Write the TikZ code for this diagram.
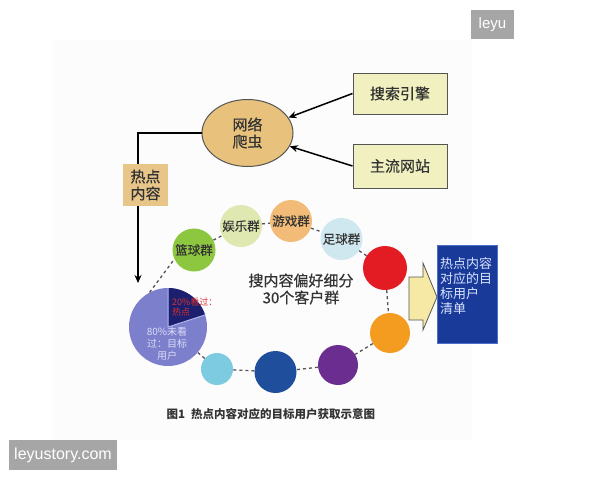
\documentclass[tikz,border=0pt]{standalone}
\usepackage{fontspec}
\setmainfont{Noto Sans CJK SC}
\newfontfamily\medfont{Noto Sans CJK SC}[FakeBold=0.5]
\newfontfamily\wmfont{Liberation Sans}
\usetikzlibrary{shapes.geometric,arrows.meta}
\definecolor{panel}{HTML}{FCFCFC}
\definecolor{srcfill}{HTML}{F0F0C0}
\definecolor{edgegray}{HTML}{555555}
\definecolor{crawlfill}{HTML}{E8C27C}
\definecolor{hotfill}{HTML}{E8C68A}
\definecolor{txt}{HTML}{333333}
\definecolor{cgreen}{HTML}{8DC63F}
\definecolor{cpale}{HTML}{DFE8B0}
\definecolor{cpeach}{HTML}{F2BC78}
\definecolor{cice}{HTML}{CFE8EF}
\definecolor{cred}{HTML}{E31B23}
\definecolor{corange}{HTML}{F39C1F}
\definecolor{cpurple}{HTML}{6B2D8F}
\definecolor{cnavy}{HTML}{1F4E9C}
\definecolor{ccyan}{HTML}{7CCBE0}
\definecolor{pieblue}{HTML}{7B7FCC}
\definecolor{pienavy}{HTML}{1B1F6E}
\definecolor{pieline}{HTML}{B4B8EC}
\definecolor{pietext}{HTML}{DCDCF8}
\definecolor{piered}{HTML}{D83030}
\definecolor{arrowfill}{HTML}{F6E9A6}
\definecolor{listblue}{HTML}{1A3A9A}
\definecolor{listedge}{HTML}{4A70C8}
\definecolor{listtext}{HTML}{D8E4FF}
\definecolor{wmgray}{HTML}{A6A6A6}
\begin{document}
\begin{tikzpicture}[x=1pt,y=-1pt,
  srcbox/.style={draw=edgegray, line width=1pt, fill=srcfill, minimum width=94pt, inner sep=0pt,
    font=\medfont\fontsize{15}{17}\selectfont, text=txt},
  crawler/.style={ellipse, draw=edgegray, line width=1pt, fill=crawlfill, minimum width=91pt,
    minimum height=67pt, inner sep=0pt, align=center, font=\medfont\fontsize{15}{17}\selectfont, text=txt},
  hotbox/.style={fill=hotfill, minimum width=45pt, minimum height=42pt, inner sep=0pt, align=center,
    font=\medfont\fontsize{15}{17}\selectfont, text=txt},
  conn/.style={line width=1.5pt, black},
  arr/.style={conn, -{Stealth[length=8pt,width=7pt]}},
  grp/.style={circle, inner sep=0pt, font=\medfont\fontsize{12.5}{14}\selectfont, text=txt},
  ring/.style={dashed, dash pattern=on 3pt off 3pt, line width=1.3pt, edgegray},
  wm/.style={fill=wmgray, text=white, inner sep=0pt, font=\wmfont\fontsize{15}{17}\selectfont}
]
\useasboundingbox (0,0) rectangle (600,480);
\fill[white] (0,0) rectangle (600,480);
\fill[panel] (52,40) rectangle (472,440);

% sources and crawler
\node[srcbox, minimum height=41pt] (search) at (400,93.5) {搜索引擎};
\node[srcbox, minimum height=44pt] (site) at (400,166) {主流网站};
\node[crawler] (crawl) at (247.5,133) {网络\\爬虫};
\draw[arr] (search.west) -- (crawl);
\draw[arr] (site.west) -- (crawl);

% hot content
\node[hotbox] (hot) at (145.5,185) {热点\\内容};
\coordinate (bend) at (138,133);
\coordinate (tip) at (138,283);
\draw[conn] (crawl.west) -- (bend) -- (hot.north -| bend);
\draw[arr] (hot.south -| bend) -- (tip);

% groups
\node[grp, fill=cgreen,  minimum size=43pt] (lanqiu) at (194,250) {篮球群};
\node[grp, fill=cpale,   minimum size=42pt] (yule)   at (241,226) {娱乐群};
\node[grp, fill=cpeach,  minimum size=42pt] (youxi)  at (291,221) {游戏群};
\node[grp, fill=cice,    minimum size=42pt] (zuqiu)  at (341.5,239) {足球群};
\node[grp, fill=cred,    minimum size=44pt] (g5) at (385,268) {};
\node[grp, fill=corange, minimum size=40pt] (g6) at (390,333) {};
\node[grp, fill=cpurple, minimum size=40pt] (g7) at (338,365) {};
\node[grp, fill=cnavy,   minimum size=42pt] (g8) at (275.5,372) {};
\node[grp, fill=ccyan,   minimum size=32pt] (g9) at (217,369) {};

% pie
\node[circle, fill=pieblue, minimum size=78pt, inner sep=0pt] (pie) at (168,327) {};
\begin{scope}
  \clip (pie.center) circle[radius=39pt];
  \fill[pienavy] (pie.center) -- (168,260) -- (250,260) -- (250,300.3) -- cycle;
\end{scope}
\draw[pieline, line width=1pt] (pie.90) -- (pie.center) -- (pie.18);
\node[anchor=west, align=left, text=piered, inner sep=0pt,
  font=\fontsize{9}{10}\selectfont] (t20) at (172,307.5) {20\%看过：\\热点};
\node[align=center, text=pietext, inner sep=0pt,
  font=\fontsize{10}{12}\selectfont] (t80) at (167,344) {80\%未看\\过：目标\\用户};

% dashed ring
\draw[ring] (pie.118) -- (lanqiu.205);
\draw[ring] (lanqiu) -- (yule);
\draw[ring] (yule) -- (youxi);
\draw[ring] (youxi) -- (zuqiu);
\draw[ring] (zuqiu) -- (g5);
\draw[ring] (g5) -- (g6);
\draw[ring] (g6) -- (g7);
\draw[ring] (g7) -- (g8);
\draw[ring] (g8) -- (g9);
\draw[ring] (g9) -- (pie);

% centre text
\node[align=center, text=txt, inner sep=0pt, font=\medfont\fontsize{15}{17}\selectfont]
  (segtext) at (301,289) {搜内容偏好细分\\30个客户群};

% block arrow and list
\draw[draw=edgegray, line width=0.8pt, fill=arrowfill]
  (409,277) -- (423,277) -- (423,263) -- (437,297) -- (423,330) -- (423,320) -- (409,320) -- cycle;
\node[fill=listblue, draw=listedge, line width=0.8pt, minimum width=60pt, minimum height=98pt,
  inner sep=0pt, text=listtext, font=\fontsize{13}{15}\selectfont] (list) at (467,294)
  {\parbox[t][74pt][t]{54pt}{\baselineskip=15pt 热点内容\\对应的目\\标用户\\清单}};

% caption
\node[text=txt, inner sep=0pt, font=\bfseries\fontsize{11.5}{14}\selectfont] (caption) at (271,414)
  {图1\hspace{6pt}热点内容对应的目标用户获取示意图};

% watermarks
\node[wm, minimum width=43pt, minimum height=29pt] (wm1) at (492.5,24.5) {leyu};
\node[wm, minimum width=108pt, minimum height=30pt, font=\wmfont\fontsize{16}{18}\selectfont] (wm2) at (63,455) {leyustory.com};
\end{tikzpicture}
\end{document}
